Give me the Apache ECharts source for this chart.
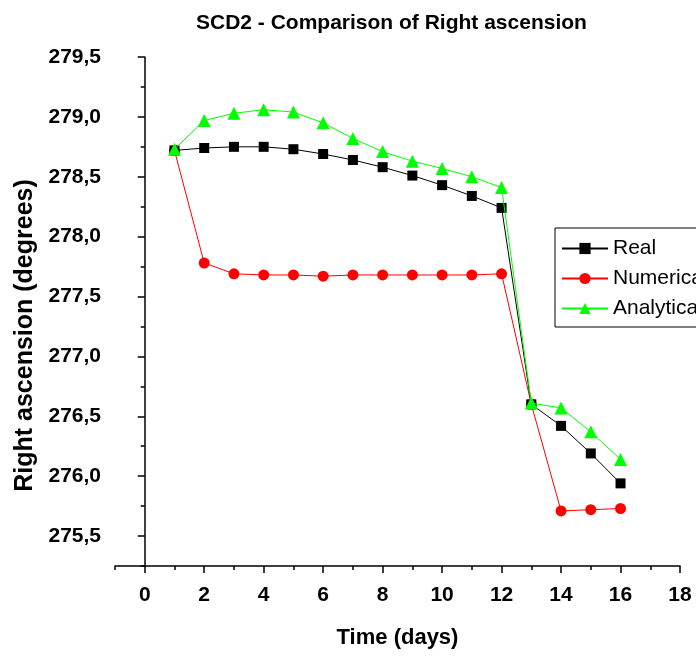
<!DOCTYPE html>
<html>
<head>
<meta charset="utf-8">
<script src="https://cdn.jsdelivr.net/npm/echarts@6/dist/echarts.min.js"></script>
<style>
  html, body { margin: 0; padding: 0; background: #fff; }
  #main { width: 696px; height: 657px; }
</style>
</head>
<body>
<div id="main"></div>
<script>
// 数据
var days = [1, 2, 3, 4, 5, 6, 7, 8, 9, 10, 11, 12, 13, 14, 15, 16];
var real = [278.72, 278.74, 278.75, 278.75, 278.73, 278.69, 278.64, 278.58, 278.51, 278.43, 278.34, 278.24, 276.60, 276.42, 276.19, 275.94];
var numerical = [278.72, 277.78, 277.69, 277.68, 277.68, 277.67, 277.68, 277.68, 277.68, 277.68, 277.68, 277.69, 276.60, 275.71, 275.72, 275.73];
var analytical = [278.73, 278.97, 279.03, 279.06, 279.04, 278.95, 278.82, 278.71, 278.63, 278.57, 278.50, 278.41, 276.61, 276.57, 276.37, 276.14];
var xMajor = [0, 2, 4, 6, 8, 10, 12, 14, 16, 18];
var xMinor = [-1, 1, 3, 5, 7, 9, 11, 13, 15, 17];
var yMajor = [275.5, 276.0, 276.5, 277.0, 277.5, 278.0, 278.5, 279.0, 279.5];
var yMinor = [275.25, 275.75, 276.25, 276.75, 277.25, 277.75, 278.25, 278.75, 279.25];

function pairs(vals) {
    return days.map(function (d, i) { return [d, vals[i]]; });
}

var font = "'Liberation Sans', Arial, sans-serif";

var myChart = echarts.init(document.getElementById('main'));

var option = {
    backgroundColor: '#fff',
    animation: false,
    title: {
        text: 'SCD2 - Comparison of Right ascension',
        left: 191,
        top: 8,
        textStyle: { fontFamily: font, fontWeight: 'bold', fontSize: 21, color: '#000' }
    },
    legend: {
        orient: 'vertical',
        left: 555,
        top: 228,
        padding: [10, 40, 8, 6],
        itemGap: 9,
        itemWidth: 46,
        itemHeight: 14,
        borderColor: '#000',
        borderWidth: 1,
        borderRadius: 0,
        textStyle: { fontFamily: font, fontSize: 21, color: '#000' },
        data: ['Real', 'Numerical', 'Analytical']
    },
    grid: { left: 115, top: 57, width: 565, height: 509, containLabel: false },
    xAxis: [{
        type: 'value',
        min: -1,
        max: 18,
        interval: 1,
        name: 'Time (days)',
        nameLocation: 'middle',
        nameGap: 61,
        nameTextStyle: { fontFamily: font, fontWeight: 'bold', fontSize: 22, color: '#000' },
        axisLine: { show: true, lineStyle: { color: '#000', width: 1.5 } },
        axisTick: { show: true, length: 7, customValues: xMajor, lineStyle: { color: '#000', width: 1.5 } },
        axisLabel: { customValues: xMajor, margin: 19, fontFamily: font, fontWeight: 'bold', fontSize: 21, color: '#000' },
        splitLine: { show: false }
    }, {
        type: 'value',
        min: -1,
        max: 18,
        interval: 1,
        position: 'bottom',
        axisLine: { show: false },
        axisTick: { show: true, length: 4, customValues: xMinor, lineStyle: { color: '#000', width: 1.5 } },
        axisLabel: { show: false },
        splitLine: { show: false }
    }],
    yAxis: [{
        type: 'value',
        min: 275.25,
        max: 279.5,
        interval: 0.25,
        name: 'Right ascension (degrees)',
        nameLocation: 'middle',
        nameGap: 62,
        nameTextStyle: { fontFamily: font, fontWeight: 'bold', fontSize: 25, color: '#000', padding: [0, 48, 0, 0] },
        axisLine: { show: true, lineStyle: { color: '#000', width: 1.5 } },
        axisTick: { show: true, length: 7, customValues: yMajor, lineStyle: { color: '#000', width: 1.5 } },
        axisLabel: {
            customValues: yMajor,
            margin: 14,
            fontFamily: font, fontWeight: 'bold', fontSize: 21, color: '#000',
            formatter: function (v) { return v.toFixed(1).replace('.', ','); }
        },
        splitLine: { show: false }
    }, {
        type: 'value',
        min: 275.25,
        max: 279.5,
        interval: 0.25,
        position: 'left',
        axisLine: { show: false },
        axisTick: { show: true, length: 4, customValues: yMinor, lineStyle: { color: '#000', width: 1.5 } },
        axisLabel: { show: false },
        splitLine: { show: false }
    }],
    series: [{
        name: 'Real',
        type: 'line',
        data: pairs(real),
        symbol: 'rect',
        symbolSize: 10,
        color: '#000',
        lineStyle: { width: 1, color: '#000' },
        itemStyle: { color: '#000' },
        z: 3
    }, {
        name: 'Numerical',
        type: 'line',
        data: pairs(numerical),
        symbol: 'circle',
        symbolSize: 11,
        color: '#ff0000',
        lineStyle: { width: 1, color: '#ff0000' },
        itemStyle: { color: '#ff0000' },
        z: 2
    }, {
        name: 'Analytical',
        type: 'line',
        data: pairs(analytical),
        symbol: 'triangle',
        symbolSize: 13,
        color: '#00ff00',
        lineStyle: { width: 1, color: '#00ff00' },
        itemStyle: { color: '#00ff00' },
        z: 4
    }]
};

myChart.setOption(option);
</script>
</body>
</html>
